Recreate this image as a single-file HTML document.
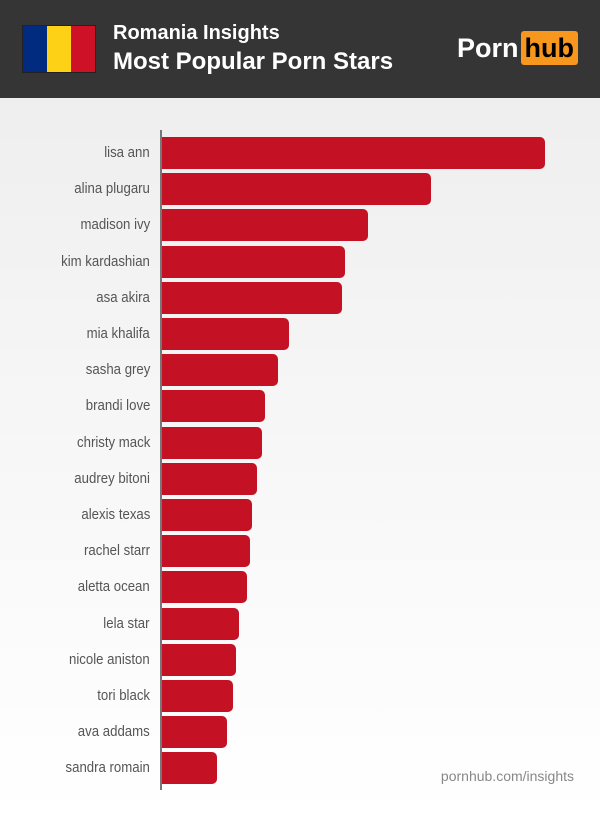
<!DOCTYPE html><html><head><style>
body{margin:0;width:600px;height:813px;overflow:hidden;font-family:"Liberation Sans",sans-serif;background:linear-gradient(180deg,#ececec 0%,#f6f6f6 50%,#fff 100%);position:relative}
.h{position:absolute;left:0;top:0;width:600px;height:98px;background:#353535}
.flag{position:absolute;left:22px;top:25px;width:72px;height:46px;border:1px solid #222;display:flex}
.flag div{flex:1}
.t1{position:absolute;left:113px;top:22px;color:#fff;font-weight:bold;font-size:20px}
.t2{position:absolute;left:113px;top:48px;color:#fff;font-weight:bold;font-size:24px}
.logo{position:absolute;left:457px;top:31px;color:#fff;font-weight:bold;font-size:27px;line-height:34px}
.hub{display:inline-block;background:#f7971d;color:#000;border-radius:3px;padding:0 4px;margin-left:2px;line-height:34px}
.ax{position:absolute;left:160px;top:130px;width:2px;height:660px;background:#777}
.bar{position:absolute;left:162px;height:32px;background:#c41124;border-radius:0 5px 5px 0}
.lb{position:absolute;right:450px;font-size:15px;color:#555;line-height:32px;white-space:nowrap;transform:scaleX(0.88);transform-origin:right center}
.ft{position:absolute;right:26px;top:768px;color:#888;font-size:14px}
</style></head><body>
<div class="h">
<div class="flag"><div style="background:#002b7f"></div><div style="background:#fcd116"></div><div style="background:#ce1126"></div></div>
<div class="t1">Romania Insights</div>
<div class="t2">Most Popular Porn Stars</div>
<div class="logo">Porn<span class="hub">hub</span></div>
</div>
<div class="ax"></div>
<div id="c"></div>
<div class="ft">pornhub.com/insights</div>
<script>
var d=[["lisa ann",545],["alina plugaru",431],["madison ivy",368],["kim kardashian",345],["asa akira",342],["mia khalifa",289],["sasha grey",278],["brandi love",265],["christy mack",262],["audrey bitoni",257],["alexis texas",252],["rachel starr",250],["aletta ocean",247],["lela star",239],["nicole aniston",236],["tori black",233],["ava addams",227],["sandra romain",217]];
var h="";d.forEach(function(r,i){var y=137+i*36.2;h+='<div class="bar" style="top:'+y+'px;width:'+(r[1]-162)+'px"></div><div class="lb" style="top:'+y+'px">'+r[0]+'</div>';});
document.getElementById("c").innerHTML=h;
</script>
</body></html>
